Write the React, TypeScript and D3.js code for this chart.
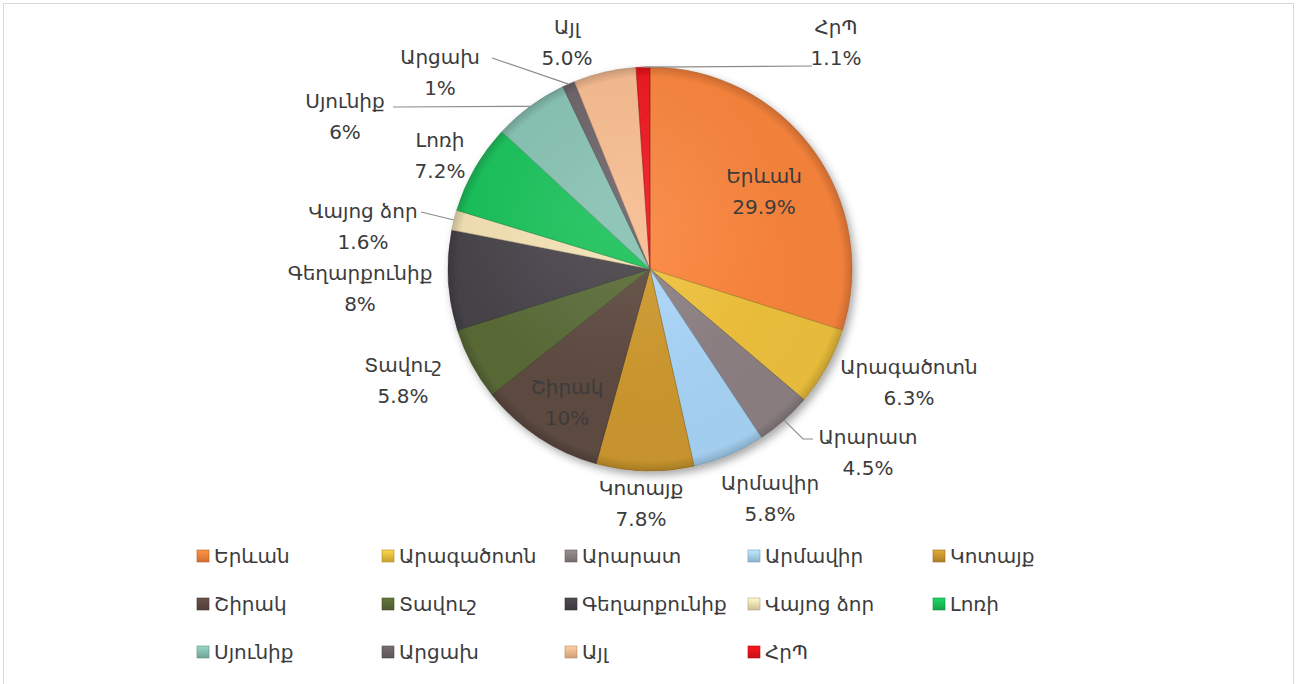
import React from "react";
import * as d3 from "d3";

const regions = ["Երևան", "Արագածոտն", "Արարատ", "Արմավիր", "Կոտայք", "Շիրակ", "Տավուշ", "Գեղարքունիք", "Վայոց ձոր", "Լոռի", "Սյունիք", "Արցախ", "Այլ", "ՀրՊ"];
const shares = [29.9, 6.3, 4.5, 5.8, 7.8, 10, 5.8, 8, 1.6, 7.2, 6, 1, 5.0, 1.1];
const valueLabels = ["29.9%", "6.3%", "4.5%", "5.8%", "7.8%", "10%", "5.8%", "8%", "1.6%", "7.2%", "6%", "1%", "5.0%", "1.1%"];
const colors = ["#F1803A", "#E6BA3A", "#887C7E", "#A3CDEE", "#C6932D", "#5B483F", "#586836", "#454247", "#ECDBAE", "#19BC57", "#82BCAD", "#686064", "#F0B68B", "#E6121A"];

const W = 1297, H = 684;
const CX = 650, CY = 269, R = 202;

// label layout: offsets from pie centre (dx, dy of name line)
const labelPos: Record<string, [number, number]> = {
  "Երևան": [114, -93],
  "Արագածոտն": [259, 98],
  "Արարատ": [218, 168],
  "Արմավիր": [120, 214],
  "Կոտայք": [-9, 219],
  "Շիրակ": [-83, 118],
  "Տավուշ": [-247, 96],
  "Գեղարքունիք": [-290, 4],
  "Վայոց ձոր": [-287, -58],
  "Լոռի": [-210, -129],
  "Սյունիք": [-305, -168],
  "Արցախ": [-210, -212],
  "Այլ": [-83, -242],
  "ՀրՊ": [186, -242],
};
// leader line waypoints (offsets from centre) after the arc start point
const leaders: Record<string, [number, number][]> = {
  "ՀրՊ": [[162, -203]],
  "Արցախ": [[-158, -211]],
  "Սյունիք": [[-257, -162]],
  "Վայոց ձոր": [[-229, -57]],
  "Արարատ": [[153, 170], [163, 170]],
};

const legendCols = [197, 382, 565, 748, 933];
const legendRows = [556, 604, 652];

export default function App() {
  const pie = d3.pie<number>().sort(null).value((d) => d)(shares);
  const arc = d3.arc<d3.PieArcDatum<number>>().innerRadius(0).outerRadius(R);
  const font = "'DejaVu Sans', sans-serif";
  return (
    <svg width={W} height={H} style={{ position: "absolute", left: 0, top: 0, background: "#fff" }}>
      <defs>
        <filter id="sh" x="-20%" y="-20%" width="140%" height="140%">
          <feDropShadow dx="3" dy="4" stdDeviation="4" floodColor="#000" floodOpacity="0.35" />
        </filter>
        {colors.map((c, i) => (
          <radialGradient key={i} id={`g${i}`} gradientUnits="userSpaceOnUse" cx={0} cy={0} r={R}>
            <stop offset="0" stopColor={d3.color(c)!.brighter(0.1).formatHex()} />
            <stop offset="0.8" stopColor={c} />
            <stop offset="0.95" stopColor={c} />
            <stop offset="1" stopColor={d3.color(c)!.darker(0.5).formatHex()} />
          </radialGradient>
        ))}
        {colors.map((c, i) => (
          <linearGradient key={`lg${i}`} id={`lgg${i}`} x1="0" y1="0" x2="0" y2="1">
            <stop offset="0" stopColor={d3.color(c)!.brighter(0.4).formatHex()} />
            <stop offset="1" stopColor={d3.color(c)!.darker(0.4).formatHex()} />
          </linearGradient>
        ))}
        <radialGradient id="gl" gradientUnits="userSpaceOnUse" cx={-40} cy={-60} r={R * 1.2}>
          <stop offset="0" stopColor="#fff" stopOpacity="0.1" />
          <stop offset="0.7" stopColor="#fff" stopOpacity="0" />
        </radialGradient>
      </defs>
      <rect x={3.5} y={3.5} width={W - 7} height={H + 20} fill="#fff" stroke="#d9d9d9" />
      <g transform={`translate(${CX},${CY})`}>
        <g filter="url(#sh)">
          {pie.map((p, i) => (
            <path key={i} d={arc(p)!} fill={`url(#g${i})`} stroke={d3.color(colors[i])!.darker(1).formatHex()} strokeWidth={0.8} strokeOpacity={0.7} />
          ))}
        </g>
        <circle r={R} fill="url(#gl)" pointerEvents="none" />
        {pie.map((p, i) => {
          const name = regions[i];
          const pts = leaders[name];
          if (!pts) return null;
          const mid = (p.startAngle + p.endAngle) / 2;
          const start: [number, number] = [Math.sin(mid) * R, -Math.cos(mid) * R];
          const line = d3.line()([start, ...pts]);
          return <path key={`l${i}`} d={line!} fill="none" stroke="#8c8c8c" strokeWidth={1.2} />;
        })}
        {pie.map((p, i) => {
          const name = regions[i];
          const [dx, dy] = labelPos[name];
          return (
            <g key={`t${i}`} fontFamily={font} fontSize={20} fill="#3c3c3c" textAnchor="middle">
              <text x={dx} y={dy} dominantBaseline="central">{name}</text>
              <text x={dx} y={dy + 31} dominantBaseline="central">{valueLabels[i]}</text>
            </g>
          );
        })}
      </g>
      <g fontFamily={font} fontSize={20} fill="#3c3c3c">
        {regions.map((name, i) => {
          const x = legendCols[i % 5];
          const y = legendRows[Math.floor(i / 5)];
          return (
            <g key={`lg${i}`}>
              <rect x={x} y={y - 6} width={12} height={12} fill={`url(#lgg${i})`} stroke={d3.color(colors[i])!.darker(0.8).formatHex()} strokeWidth={0.6} />
              <text x={x + 17} y={y} dominantBaseline="central">{name}</text>
            </g>
          );
        })}
      </g>
    </svg>
  );
}
